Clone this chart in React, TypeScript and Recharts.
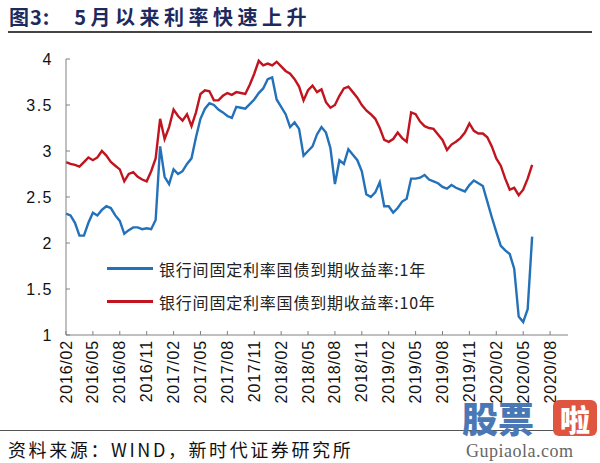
import { Legend, Line, LineChart, XAxis, YAxis } from "recharts";

// 月度刻度，起点 2016/02，每 3 个月一个
const xTickLabels = [
  "2016/02", "2016/05", "2016/08", "2016/11",
  "2017/02", "2017/05", "2017/08", "2017/11",
  "2018/02", "2018/05", "2018/08", "2018/11",
  "2019/02", "2019/05", "2019/08", "2019/11",
  "2020/02", "2020/05", "2020/08",
];
const yTicks = [1, 1.5, 2, 2.5, 3, 3.5, 4];

const seriesNames = [
  "银行间固定利率国债到期收益率:1年",
  "银行间固定利率国债到期收益率:10年",
];

// 半月一个点（%）
const yield1y = [
  2.32, 2.30, 2.22, 2.08, 2.08, 2.22, 2.33, 2.30, 2.36, 2.40,
  2.38, 2.30, 2.24, 2.10, 2.14, 2.17, 2.17, 2.15, 2.16, 2.15,
  2.25, 3.05, 2.72, 2.64, 2.80, 2.75, 2.78, 2.86, 2.92, 3.15,
  3.35, 3.46, 3.52, 3.50, 3.45, 3.42, 3.38, 3.36, 3.48, 3.47,
  3.46, 3.51, 3.56, 3.63, 3.68, 3.78, 3.80, 3.56, 3.48, 3.40,
  3.26, 3.31, 3.24, 2.95, 3.00, 3.05, 3.18, 3.26, 3.20, 3.03,
  2.64, 2.90, 2.86, 3.02, 2.96, 2.90, 2.78, 2.53, 2.50, 2.55,
  2.66, 2.40, 2.40, 2.33, 2.38, 2.45, 2.48, 2.70, 2.70, 2.71,
  2.74, 2.69, 2.67, 2.65, 2.61, 2.59, 2.63, 2.60, 2.58, 2.56,
  2.63, 2.68, 2.65, 2.62, 2.45, 2.28, 2.12, 1.97, 1.92, 1.88,
  1.72, 1.20, 1.14, 1.28, 2.07,
];

const yield10y = [
  2.88, 2.86, 2.85, 2.83, 2.88, 2.93, 2.90, 2.93, 3.00, 2.95,
  2.88, 2.84, 2.80, 2.67, 2.75, 2.77, 2.72, 2.69, 2.67, 2.78,
  2.92, 3.35, 3.13, 3.26, 3.45, 3.38, 3.33, 3.40, 3.27, 3.42,
  3.62, 3.66, 3.65, 3.55, 3.55, 3.60, 3.63, 3.61, 3.64, 3.63,
  3.62, 3.72, 3.84, 3.98, 3.93, 3.95, 3.93, 3.97, 3.92, 3.87,
  3.84, 3.78, 3.70, 3.55, 3.66, 3.71, 3.64, 3.67, 3.53, 3.47,
  3.50, 3.60, 3.68, 3.70, 3.64, 3.58, 3.50, 3.44, 3.40, 3.35,
  3.25, 3.12, 3.10, 3.13, 3.20, 3.14, 3.10, 3.42, 3.40, 3.32,
  3.27, 3.25, 3.24, 3.18, 3.12, 3.01, 3.07, 3.10, 3.14, 3.20,
  3.30, 3.22, 3.19, 3.19, 3.15, 3.05, 2.92, 2.84, 2.70, 2.58,
  2.60, 2.52, 2.58, 2.70, 2.85,
];

const data = yield1y.map((v, i) => ({ t: i / 2, y1: v, y10: yield10y[i] }));
const xTicks = xTickLabels.map((_, i) => i * 3);

const AXIS = "#808080";
const NUM_FONT = "'Liberation Sans', Arial, sans-serif";
const CJK_FONT = "'Noto Sans CJK SC', sans-serif";

function XTick(props: any) {
  const { x, y, payload } = props;
  const label = xTickLabels[Math.round(payload.value / 3)];
  return (
    <g>
      <line x1={x} y1={y} x2={x} y2={y - 4} stroke={AXIS} />
      <text
        x={x}
        y={y + 5}
        transform={`rotate(-90 ${x} ${y + 5})`}
        textAnchor="end"
        dominantBaseline="central"
        fontSize={16}
        letterSpacing={0.8}
        fontFamily={NUM_FONT}
        fill="#111"
      >
        {label}
      </text>
    </g>
  );
}

function YTick(props: any) {
  const { x, y, payload } = props;
  return (
    <g>
      <line x1={x} y1={y} x2={x + 4} y2={y} stroke={AXIS} />
      <text
        x={x - 13}
        y={y}
        textAnchor="end"
        dominantBaseline="central"
        fontSize={16}
        letterSpacing={1.5}
        fontFamily={NUM_FONT}
        fill="#111"
      >
        {String(payload.value)}
      </text>
    </g>
  );
}

function LegendBox({ payload }: any) {
  const items = [...(payload || [])].sort(
    (a: any, b: any) => seriesNames.indexOf(a.value) - seriesNames.indexOf(b.value)
  );
  return (
    <div>
      {items.map((p: any) => (
        <div key={p.value} style={{ display: "flex", alignItems: "center", height: 33 }}>
          <div style={{ width: 46, height: 3, background: p.color, marginRight: 6 }} />
          <span style={{ fontFamily: CJK_FONT, fontSize: 16, letterSpacing: 0.8, color: "#222" }}>
            {p.value}
          </span>
        </div>
      ))}
    </div>
  );
}

export default function App() {
  return (
    <div style={{ position: "absolute", left: 0, top: 0, width: 600, height: 463, background: "#fff", overflow: "hidden" }}>
      <div style={{ position: "absolute", left: 9, top: 2, fontFamily: CJK_FONT, fontWeight: 700, fontSize: 20, color: "#1c2a5e", whiteSpace: "nowrap" }}>
        <span style={{ letterSpacing: 1 }}>图3:</span>
        <span style={{ marginLeft: 24, letterSpacing: 4.5 }}>5月以来利率快速上升</span>
      </div>
      <div style={{ position: "absolute", left: 8, top: 31, width: 584, height: 2, background: "#444" }} />

      <div style={{ position: "absolute", left: 0, top: 0 }}>
        <LineChart width={600} height={463} data={data} margin={{ top: 59, right: 32, bottom: 58, left: 0 }}>
          <XAxis
            type="number"
            dataKey="t"
            domain={[0, 56]}
            ticks={xTicks}
            interval={0}
            height={70}
            tickSize={0}
            tickMargin={0}
            tickLine={false}
            axisLine={{ stroke: AXIS }}
            tick={<XTick />}
          />
          <YAxis
            domain={[1, 4]}
            ticks={yTicks}
            interval={0}
            width={66}
            tickSize={0}
            tickMargin={0}
            tickLine={false}
            axisLine={{ stroke: AXIS }}
            tick={<YTick />}
          />
          <Legend
            layout="vertical"
            align="center"
            verticalAlign="middle"
            wrapperStyle={{ left: 107, top: 252, width: 400 }}
            content={<LegendBox />}
          />
          <Line type="linear" dataKey="y1" name={seriesNames[0]} stroke="#2371b9" strokeWidth={2.4} dot={false} isAnimationActive={false} />
          <Line type="linear" dataKey="y10" name={seriesNames[1]} stroke="#c1141e" strokeWidth={2.4} dot={false} isAnimationActive={false} />
        </LineChart>
      </div>

      <div style={{ position: "absolute", left: 0, top: 430, width: 592, height: 1, background: "#555" }} />
      <div style={{ position: "absolute", left: 8, top: 436, fontFamily: CJK_FONT, fontSize: 18, letterSpacing: 2.6, color: "#111", whiteSpace: "nowrap" }}>
        资料来源：WIND，新时代证券研究所
      </div>

      <div style={{ position: "absolute", left: 462, top: 396, fontFamily: CJK_FONT, fontWeight: 900, fontSize: 36, color: "#4a78b5", lineHeight: "42px", whiteSpace: "nowrap" }}>
        股票
      </div>
      <div style={{ position: "absolute", left: 553, top: 400, width: 44, height: 36, borderRadius: 6, background: "#e0553f", color: "#fff", fontFamily: CJK_FONT, fontWeight: 900, fontSize: 30, lineHeight: "36px", textAlign: "center" }}>
        啦
      </div>
      <div style={{ position: "absolute", left: 466, top: 441, fontFamily: "'Liberation Serif', serif", fontSize: 18, lineHeight: "20px", color: "#666", letterSpacing: 0.5, whiteSpace: "nowrap" }}>
        Gupiaola.com
      </div>
    </div>
  );
}
